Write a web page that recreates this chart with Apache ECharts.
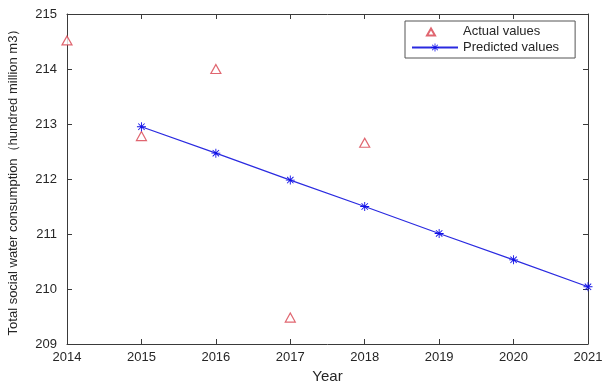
<!DOCTYPE html>
<html>
<head>
<meta charset="utf-8">
<script src="https://cdn.jsdelivr.net/npm/echarts@6/dist/echarts.min.js"></script>
<style>
  html, body { margin: 0; padding: 0; background: #fff; }
  #chart { width: 602px; height: 383px; }
</style>
</head>
<body>
<div id="chart"></div>
<script>
// Years on the horizontal axis
const years = [2014, 2015, 2016, 2017, 2018, 2019, 2020, 2021];
// Observed water consumption (hundred million m3), 2014-2018
const actualYears = [2014, 2015, 2016, 2017, 2018];
const actualValues = [214.52, 212.78, 214.00, 209.48, 212.66];
// Model output, 2015-2021
const predictedYears = [2015, 2016, 2017, 2018, 2019, 2020, 2021];
const predictedValues = [212.95, 212.47, 211.98, 211.50, 211.01, 210.53, 210.04];
// Axis ranges
const xRange = [2014, 2021];
const yRange = [209, 215];

const axisColor = '#3a3a3a';
const textColor = '#262626';
const font = 'Liberation Sans, Arial, sans-serif';

// Asterisk marker: four thin bars crossing at the centre
const asterisk = 'path://M4.5,0 L5.5,0 L5.5,10 L4.5,10 Z M0,4.5 L10,4.5 L10,5.5 L0,5.5 Z ' +
  'M1.1,1.8 L1.8,1.1 L8.9,8.2 L8.2,8.9 Z M8.2,1.1 L8.9,1.8 L1.8,8.9 L1.1,8.2 Z';

// Legend icon for the triangles: outline triangle centred in the wide legend slot
// (the two bare move-to points only widen the icon's bounding box)
const legendTriangle = 'path://M0,0 M46,10 M15,9 L19,2 L23,9 Z';

const zip = (xs, ys) => xs.map((x, i) => [x, ys[i]]);

const chart = echarts.init(document.getElementById('chart'), null, { renderer: 'canvas' });

const boxAxis = {
  axisLine: { show: true, onZero: false, lineStyle: { color: axisColor, width: 1 } },
  axisTick: { show: true, inside: true, length: 5, lineStyle: { color: axisColor } },
  splitLine: { show: false }
};

chart.setOption({
  animation: false,
  backgroundColor: '#fff',
  grid: { left: 67, right: 14, top: 14, bottom: 39, containLabel: false, outerBoundsMode: 'none' },
  legend: {
    orient: 'vertical',
    left: 405,
    top: 21,
    padding: [4, 16, 4, 6],
    itemGap: 3,
    itemWidth: 46,
    itemHeight: 10,
    borderColor: '#555',
    borderWidth: 1,
    backgroundColor: '#fff',
    textStyle: { fontFamily: font, fontSize: 13, color: textColor },
    data: [
      { name: 'Actual values', icon: legendTriangle },
      { name: 'Predicted values' }
    ]
  },
  xAxis: [
    Object.assign({
      type: 'value', min: xRange[0], max: xRange[1], interval: 1,
      name: 'Year', nameLocation: 'middle', nameGap: 24,
      nameTextStyle: { fontFamily: font, fontSize: 15, color: textColor },
      axisLabel: { fontFamily: font, fontSize: 13, color: textColor, margin: 7,
        formatter: v => String(v) }
    }, boxAxis),
    Object.assign({
      type: 'value', min: xRange[0], max: xRange[1], interval: 1, position: 'top',
      axisLabel: { show: false }
    }, boxAxis)
  ],
  yAxis: [
    Object.assign({
      type: 'value', min: yRange[0], max: yRange[1], interval: 1,
      name: 'Total social water consumption（hundred million m3）',
      nameLocation: 'middle', nameGap: 47,
      nameTextStyle: { fontFamily: font, fontSize: 13, color: textColor },
      axisLabel: { fontFamily: font, fontSize: 13, color: textColor, margin: 10 }
    }, boxAxis),
    Object.assign({
      type: 'value', min: yRange[0], max: yRange[1], interval: 1, position: 'right',
      axisLabel: { show: false }
    }, boxAxis)
  ],
  series: [
    {
      name: 'Actual values',
      type: 'scatter',
      data: zip(actualYears, actualValues),
      symbol: 'triangle',
      symbolSize: [10, 9],
      itemStyle: { color: '#fff', borderColor: '#d8404c', borderWidth: 1.2 },
      z: 3
    },
    {
      name: 'Predicted values',
      type: 'line',
      data: zip(predictedYears, predictedValues),
      symbol: asterisk,
      symbolSize: 9,
      showAllSymbol: true,
      lineStyle: { color: '#2a2ae0', width: 1.2 },
      itemStyle: { color: '#1010e8' },
      z: 4
    }
  ]
});
</script>
</body>
</html>
